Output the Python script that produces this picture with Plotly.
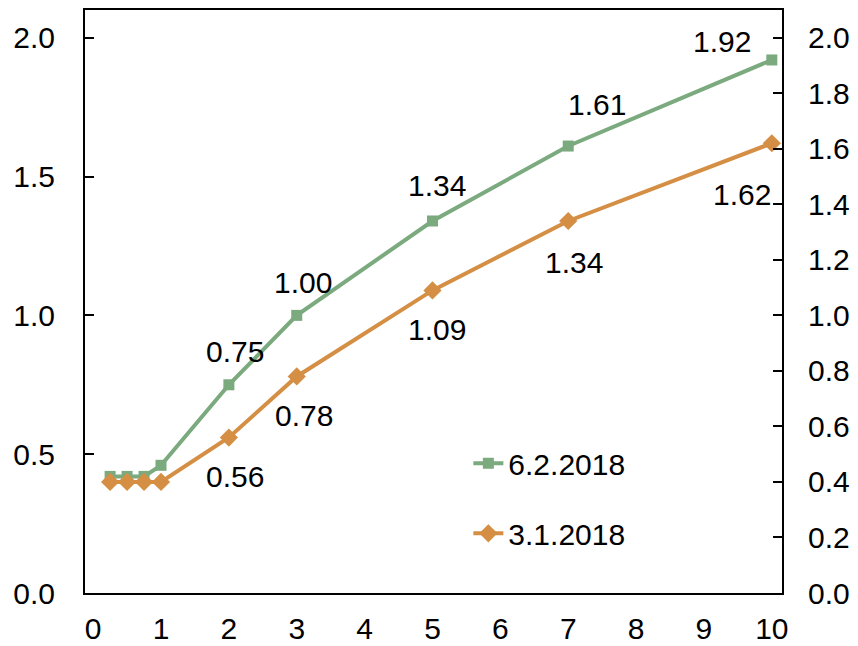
import plotly.graph_objects as go

# Maturities (years) and yields for the two curve dates
maturity = [0.25, 0.5, 0.75, 1, 2, 3, 5, 7, 10]
curve_feb = [0.42, 0.42, 0.42, 0.46, 0.75, 1.00, 1.34, 1.61, 1.92]
curve_jan = [0.40, 0.40, 0.40, 0.40, 0.56, 0.78, 1.09, 1.34, 1.62]
name_feb = "6.2.2018"
name_jan = "3.1.2018"

# Points that carry a value label (indices into the arrays above)
labelled = [4, 5, 6, 7, 8]
# Label offsets in pixels (x, y) for each labelled point
feb_offsets = [(6, 33), (6, 33), (5, 35), (29, 42), (-50, 18)]
jan_offsets = [(6, -39), (7, -39), (5, -39), (6, -42), (-30, -51)]

GREEN = "#7aaa7e"
ORANGE = "#d58f45"
FONT = "Liberation Sans, Arial, sans-serif"
FS = 30

fig = go.Figure()
fig.add_trace(go.Scatter(
    x=maturity, y=curve_feb, name=name_feb, mode="lines+markers",
    line=dict(color=GREEN, width=4),
    marker=dict(symbol="square", size=11, color=GREEN),
    legendgroup="a",
))
fig.add_trace(go.Scatter(
    x=maturity, y=curve_jan, name=name_jan, mode="lines+markers",
    line=dict(color=ORANGE, width=4),
    marker=dict(symbol="diamond", size=14, color=ORANGE),
    yaxis="y2", legendgroup="b",
))

annotations = []
for i, (dx, dy) in zip(labelled, feb_offsets):
    annotations.append(dict(
        x=maturity[i], y=curve_feb[i], xref="x", yref="y",
        text=f"{curve_feb[i]:.2f}", showarrow=False,
        xshift=dx, yshift=dy, font=dict(size=FS, color="black", family=FONT),
    ))
for i, (dx, dy) in zip(labelled, jan_offsets):
    annotations.append(dict(
        x=maturity[i], y=curve_jan[i], xref="x", yref="y2",
        text=f"{curve_jan[i]:.2f}", showarrow=False,
        xshift=dx, yshift=dy, font=dict(size=FS, color="black", family=FONT),
    ))

axis_font = dict(size=FS, color="black", family=FONT)

fig.update_layout(
    width=858, height=646,
    margin=dict(l=85, r=76, t=10, b=53, autoexpand=False),
    paper_bgcolor="white", plot_bgcolor="white",
    font=dict(family=FONT, size=FS, color="black"),
    showlegend=True,
    legend=dict(
        x=0.55, y=0.267, xanchor="left", yanchor="top",
        bgcolor="rgba(0,0,0,0)", font=dict(size=FS, family=FONT),
        tracegroupgap=28, itemwidth=30,
    ),
    xaxis=dict(
        range=[-0.12, 10.15], tickmode="array", automargin=False,
        tickvals=list(range(0, 11)), ticktext=[str(v) for v in range(0, 11)],
        showgrid=False, zeroline=False, showline=True, linecolor="black",
        linewidth=2, mirror=True, ticks="", tickfont=axis_font,
        ticklabelstandoff=8,
    ),
    yaxis=dict(
        range=[0, 2.1], tickmode="array", tickvals=[0, 0.5, 1.0, 1.5, 2.0],
        tickformat=".1f", showgrid=False, zeroline=False, showline=True,
        automargin=False,
        linecolor="black", linewidth=2, ticks="inside", ticklen=9,
        tickwidth=2, tickcolor="black", tickfont=axis_font,
        ticklabelstandoff=22,
    ),
    yaxis2=dict(
        range=[0, 2.1], overlaying="y", side="right", tickmode="array",
        tickvals=[0, 0.2, 0.4, 0.6, 0.8, 1.0, 1.2, 1.4, 1.6, 1.8, 2.0],
        tickformat=".1f", showgrid=False, zeroline=False, showline=True,
        automargin=False,
        linecolor="black", linewidth=2, ticks="inside", ticklen=9,
        tickwidth=2, tickcolor="black", tickfont=axis_font,
        ticklabelstandoff=18,
    ),
    annotations=annotations,
)

fig.write_html("out.html")
